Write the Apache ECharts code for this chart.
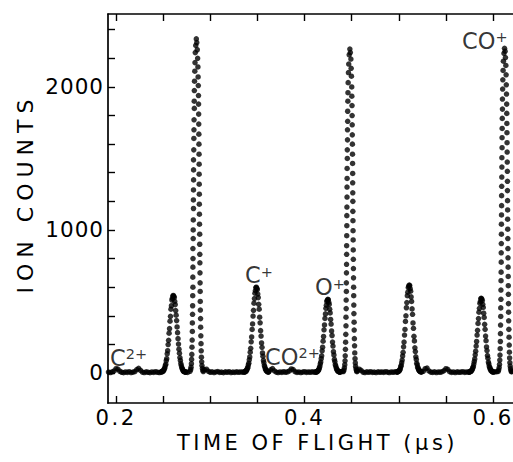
<!DOCTYPE html>
<html>
<head>
<meta charset="utf-8">
<script src="https://cdn.jsdelivr.net/npm/echarts@6/dist/echarts.min.js"></script>
<style>
html, body { margin: 0; padding: 0; background: #ffffff; }
#chart { width: 513px; height: 462px; }
#chart svg text { letter-spacing: 3.5px; }
#chart svg text[style*="21.2px"] { letter-spacing: 2.5px; }
#chart svg text[style*="22px"] { letter-spacing: 6px; }
#chart svg text[style*="21.5px"] { letter-spacing: 1px; }
#chart svg text[style*="22.5px"], #chart svg text[style*="14.5px"] { letter-spacing: 0; }
</style>
</head>
<body>
<div id="chart"></div>
<script>
// ---------------- DATA ----------------
// Axis ticks and labels
const X_TICKS = [0.2, 0.25, 0.3, 0.35, 0.4, 0.45, 0.5, 0.55, 0.6];
const X_LABELS = [0.2, 0.4, 0.6];
const Y_TICKS = [0, 200, 400, 600, 800, 1000, 1200, 1400, 1600, 1800, 2000, 2200, 2400];
const Y_LABELS = [0, 1000, 2000];
const X_TITLE = 'TIME OF FLIGHT (\u03bcs)';
const Y_TITLE = 'ION COUNTS';

// Baseline record: time start (us), channel step (us), counts (null = inside a peak record below)
const baseStart = 0.192;
const baseStep = 0.002;
const baseCounts = [
  6, 3, 8, 14, 30, 27, 12, 5, 2, 7, 4, 9, 3, 6, 10, 24, 32, 18, 6, 3, 8, 5, 2, 7, 4, 9, 5, 3,
  null, null, null, null, null, null, null, null, null, null, null, null, null,
  6, 4,
  null, null, null, null, null, null, null, null,
  22, 26, 12, 5, 8, 3, 7, 10, 4, 6, 2, 8, 5, 9, 3, 6, 4, 8, 5, 7, 6,
  null, null, null, null, null, null, null, null, null, null, null, null, null,
  8, 22, 31, 15, 6, 3, 7, 4, 9, 5, 8, 14, 28, 24, 9, 4, 7, 3, 6, 9, 4, 7, 5, 8, 6,
  null, null, null, null, null, null, null, null, null, null, null, null, null,
  9, 11,
  null, null, null, null, null, null, null,
  14, 26, 18, 6, 3, 8, 5, 9, 4, 6, 3, 8, 5, 7, 4, 9, 6, 3, 7, 5, 8, 7,
  null, null, null, null, null, null, null, null, null, null, null, null, null,
  12, 30, 34, 14, 6, 4, 8, 3, 7, 5, 9, 16, 30, 25, 9, 4, 7, 3, 8, 5, 6, 9, 4, 7, 6,
  null, null, null, null, null, null, null, null, null, null, null, null, null,
  7, 9,
  null, null, null, null, null, null, null,
  10
];

// Medium peaks (step 0.0005 us)
const midStep = 0.0005;
const peakA_start = 0.2478;
const peakA = [6,9,8,12,11,18,20,31,36,52,61,86,100,134,156,199,228,278,310,362,396,446,470,510,522,538,542,536,528,500,478,436,404,366,322,282,240,202,166,138,108,88,66,52,38,30,22,15,12,9,10,6,8];
const peakCplus_start = 0.3359;
const peakCplus = [5,9,8,13,11,20,22,33,39,56,68,92,112,145,172,218,252,304,343,398,438,488,520,558,576,597,600,592,583,552,527,480,446,390,351,296,258,210,179,140,117,88,72,52,43,29,25,16,15,10,10,6,9];
const peakOplus_start = 0.4117;
const peakOplus = [7,5,9,8,12,14,20,24,35,45,63,76,100,120,155,180,222,255,302,336,381,413,452,474,500,508,515,512,495,480,446,420,374,342,294,262,216,188,149,126,95,80,58,48,34,28,19,17,11,11,7,8,5];
const peakD_start = 0.4981;
const peakD = [8,6,10,12,13,17,22,30,44,53,72,90,119,144,183,216,265,304,360,400,456,492,540,565,597,608,615,611,590,572,532,500,448,410,350,312,256,224,176,150,113,95,68,57,40,33,22,19,13,12,8,9,6];
const peakE_start = 0.5746;
const peakE = [6,8,7,11,12,17,20,27,37,45,62,80,98,127,152,188,220,265,298,346,380,425,452,487,500,520,522,517,506,480,458,418,388,340,305,258,226,182,157,122,103,76,63,45,38,26,22,14,15,10,8,6,8];

// Tall (CO+) peaks: samples given as time offset from peak centre (ns) and counts
// (first 40 = rising edge from the top down, last 40 = falling edge from the top down)
const tall1_center = 0.2852;
const tall1_dtNs = [0,-0.6,-1.1,-1.4,-1.6,-1.9,-2.1,-2.2,-2.1,-2.4,-2.5,-2.6,-2.7,-3.0,-2.9,-2.9,-3.0,-3.1,-3.0,-3.2,-3.3,-3.3,-3.6,-3.5,-3.6,-3.7,-3.6,-3.8,-3.9,-4.0,-4.2,-4.2,-4.4,-4.6,-4.8,-5.0,-5.2,-5.6,-6.0,-6.7,
  0.5,1.0,1.4,1.7,1.9,2.1,2.3,2.4,2.5,2.6,2.7,2.8,2.9,3.0,3.0,3.1,3.2,3.2,3.3,3.4,3.6,3.6,3.7,3.8,3.9,4.0,4.1,4.2,4.3,4.5,4.6,4.8,5.0,5.2,5.4,5.7,6.0,6.5,7.0,7.4];
const tall1_counts = [2336,2290,2240,2170,2110,2040,1975,1900,1850,1770,1700,1640,1560,1490,1420,1350,1280,1210,1150,1070,1000,940,870,800,740,670,600,540,470,410,350,290,230,180,130,95,65,40,25,12,
  2310,2260,2200,2140,2070,2010,1940,1880,1810,1740,1670,1600,1530,1460,1390,1320,1250,1180,1110,1040,970,900,830,770,700,630,570,500,440,380,320,260,205,155,110,78,52,32,18,10];
const tall2_center = 0.4481;
const tall2_dtNs = [0,-0.7,-1.2,-1.5,-1.8,-2.0,-2.1,-2.3,-2.3,-2.5,-2.5,-2.7,-2.7,-2.9,-2.9,-3.0,-3.0,-3.1,-3.2,-3.2,-3.3,-3.4,-3.4,-3.5,-3.6,-3.7,-3.7,-3.9,-3.9,-4.1,-4.1,-4.3,-4.5,-4.7,-4.9,-5.1,-5.4,-5.8,-6.3,-6.9,
  0.5,1.1,1.4,1.7,2.0,2.1,2.3,2.4,2.5,2.6,2.7,2.8,2.9,3.0,3.0,3.1,3.2,3.2,3.3,3.4,3.5,3.6,3.7,3.8,3.9,4.0,4.1,4.2,4.3,4.5,4.6,4.8,5.0,5.2,5.5,5.8,6.1,6.6,7.1,7.5];
const tall2_counts = [2265,2225,2160,2100,2030,1960,1900,1830,1760,1700,1630,1560,1500,1430,1360,1300,1230,1160,1100,1030,960,890,830,760,700,630,570,510,450,390,330,270,215,165,120,85,58,36,20,10,
  2240,2195,2130,2075,2000,1935,1870,1800,1735,1665,1600,1530,1465,1395,1330,1260,1200,1130,1065,995,930,860,795,730,665,600,540,475,415,355,300,240,190,140,100,70,46,28,16,9];
const tall3_center = 0.6122;
const tall3_dtNs = [0,-0.6,-1.2,-1.5,-1.8,-2.0,-2.2,-2.2,-2.4,-2.5,-2.6,-2.6,-2.8,-2.8,-2.9,-3.0,-3.1,-3.1,-3.2,-3.3,-3.3,-3.4,-3.5,-3.5,-3.6,-3.7,-3.8,-3.8,-4.0,-4.0,-4.2,-4.3,-4.4,-4.6,-4.8,-5.0,-5.3,-5.7,-6.2,-6.8,
  0.6,1.0,1.4,1.7,1.9,2.1,2.3,2.4,2.5,2.6,2.7,2.8,2.9,3.0,3.1,3.1,3.2,3.3,3.3,3.4,3.5,3.6,3.7,3.8,3.9,4.0,4.1,4.2,4.3,4.4,4.6,4.8,5.0,5.2,5.4,5.7,6.0,6.4,6.9,7.3];
const tall3_counts = [2270,2235,2180,2115,2050,1985,1915,1845,1780,1710,1645,1575,1505,1440,1370,1305,1240,1170,1105,1040,970,905,840,775,705,645,580,515,455,395,335,275,220,170,125,90,60,38,22,11,
  2250,2205,2150,2085,2015,1950,1880,1815,1745,1680,1610,1545,1475,1410,1340,1275,1205,1140,1075,1005,940,870,805,740,675,610,550,485,425,365,305,250,195,145,105,72,48,30,17,9];

// Peak annotations
const labelMain = ['C', 'C', 'CO', 'O', 'CO'];
const labelSup = ['2+', '+', '2+', '+', '+'];
const labelX = [0.1936, 0.3369, 0.3581, 0.4111, 0.5671];
const labelY = [108, 682, 112, 601, 2322];

// ---------------- BUILD ----------------
function addRecord(out, t0, dt, counts) {
  counts.forEach(function (c, i) {
    if (c !== null) out.push([+(t0 + i * dt).toFixed(6), c]);
  });
}
function addOffsets(out, center, dtNs, counts) {
  counts.forEach(function (c, i) {
    out.push([+(center + dtNs[i] / 1000).toFixed(6), c]);
  });
}
const points = [];
addRecord(points, baseStart, baseStep, baseCounts);
addRecord(points, peakA_start, midStep, peakA);
addRecord(points, peakCplus_start, midStep, peakCplus);
addRecord(points, peakOplus_start, midStep, peakOplus);
addRecord(points, peakD_start, midStep, peakD);
addRecord(points, peakE_start, midStep, peakE);
addOffsets(points, tall1_center, tall1_dtNs, tall1_counts);
addOffsets(points, tall2_center, tall2_dtNs, tall2_counts);
addOffsets(points, tall3_center, tall3_dtNs, tall3_counts);

const labelData = labelX.map(function (x, i) { return [x, labelY[i]]; });

const FONT = 'DejaVu Sans';
const X_MIN = 0.1915, X_MAX = 0.6212;
const Y_MIN = -210, Y_MAX = 2510;
const lineStyle = { color: '#000', width: 1.7 };

const chart = echarts.init(document.getElementById('chart'), null, { renderer: 'svg' });
chart.setOption({
  animation: false,
  backgroundColor: '#ffffff',
  grid: { left: 108, right: 0, top: 14, bottom: 59 },
  xAxis: [{
    type: 'value', min: X_MIN, max: X_MAX, position: 'bottom',
    axisLine: { show: true, onZero: false, lineStyle: lineStyle },
    axisTick: { show: true, inside: true, length: 7, customValues: X_TICKS, lineStyle: { color: '#000', width: 1.4 } },
    axisLabel: { show: true, customValues: X_LABELS, formatter: function (v) { return v.toFixed(1); },
      color: '#000', fontFamily: FONT, fontSize: 21.2, margin: 4 },
    splitLine: { show: false },
    name: X_TITLE, nameLocation: 'middle', nameGap: 28,
    nameTextStyle: { color: '#000', fontFamily: FONT, fontSize: 21, padding: [0, 0, 0, 14] }
  }, {
    type: 'value', min: X_MIN, max: X_MAX, position: 'top',
    axisLine: { show: true, onZero: false, lineStyle: lineStyle },
    axisTick: { show: true, inside: true, length: 7, customValues: X_TICKS, lineStyle: { color: '#000', width: 1.4 } },
    axisLabel: { show: false },
    splitLine: { show: false }
  }],
  yAxis: {
    type: 'value', min: Y_MIN, max: Y_MAX,
    axisLine: { show: true, onZero: false, lineStyle: lineStyle },
    axisTick: { show: true, inside: true, length: 7, customValues: Y_TICKS, lineStyle: { color: '#000', width: 1.4 } },
    axisLabel: { show: true, customValues: Y_LABELS, formatter: function (v) { return String(v); },
      color: '#000', fontFamily: FONT, fontSize: 21.5, margin: 4 },
    splitLine: { show: false },
    name: Y_TITLE, nameLocation: 'middle', nameGap: 72,
    nameTextStyle: { color: '#000', fontFamily: FONT, fontSize: 22, padding: [0, 0, 0, 30] }
  },
  series: [{
    type: 'scatter',
    xAxisIndex: 0,
    symbol: 'circle',
    symbolSize: 5.5,
    itemStyle: { color: '#000' },
    data: points,
    z: 2
  }, {
    type: 'scatter',
    xAxisIndex: 0,
    symbolSize: 0,
    data: labelData,
    silent: true,
    z: 3,
    label: {
      show: true,
      position: [0, 0],
      align: 'left',
      verticalAlign: 'middle',
      formatter: function (p) { return '{m|' + labelMain[p.dataIndex] + '}{s|' + labelSup[p.dataIndex] + '}'; },
      rich: {
        m: { fontFamily: FONT, fontSize: 22.5, lineHeight: 22, color: '#000' },
        s: { fontFamily: FONT, fontSize: 14.5, lineHeight: 10, verticalAlign: 'top', color: '#000' }
      }
    }
  }]
});
</script>
</body>
</html>
